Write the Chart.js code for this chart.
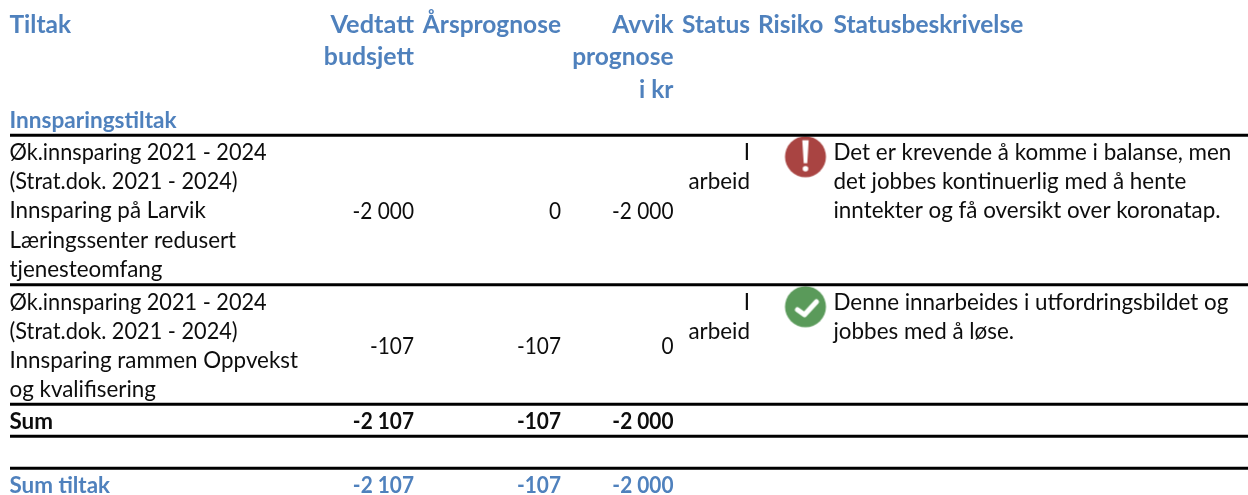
<!DOCTYPE html>
<html>
<head>
<meta charset="utf-8">
<script src="https://cdn.jsdelivr.net/npm/chart.js@4"></script>
<style>
  html, body { margin: 0; padding: 0; background: #fff; }
  canvas { display: block; }
</style>
</head>
<body>
<canvas id="tiltakChart" width="1248" height="495"></canvas>
<script>
// ── Data ──────────────────────────────────────────────────────────────────────
const tiltak = [
  ['Øk.innsparing 2021 - 2024', '(Strat.dok. 2021 - 2024)', 'Innsparing på Larvik', 'Læringssenter redusert', 'tjenesteomfang'],
  ['Øk.innsparing 2021 - 2024', '(Strat.dok. 2021 - 2024)', 'Innsparing rammen Oppvekst', 'og kvalifisering'],
];
const vedtatt = [-2000, -107];
const prognose = [0, -107];
const avvik = [-2000, 0];
const sumVedtatt = -2107;
const sumPrognose = -107;
const sumAvvik = -2000;
const statusTekst = ['I', 'arbeid'];
const beskrivelse = [
  ['Det er krevende å komme i balanse, men', 'det jobbes kontinuerlig med å hente', 'inntekter og få oversikt over koronatap.'],
  ['Denne innarbeides i utfordringsbildet og', 'jobbes med å løse.'],
];

// ── Layout ────────────────────────────────────────────────────────────────────
const BLUE = '#4f81bd';
const BLACK = '#0d0d0d';
const LEFT = 9.5, R_VEDTATT = 414, R_PROGNOSE = 561, R_AVVIK = 673.5, R_STATUS = 750, L_BESKR = 833.5;
const ruleYs = [135.3, 284.7, 404.3, 436.3, 468.3];
const iconX = [805.5, 805.5];
const iconY = [156.7, 306.7];
const iconR = 20.5;
const rowTop = [160, 309.5];
const rowValueY = [218.6, 353.5];
const LINE_H = 29.2;
const HEAD_Y = [33, 65, 98];
const SUM_Y = 429.3;
const TOTAL_Y = 492.5;

const BODY = { font: '22.4px Lato', sx: 1 };
const DIGITS = { font: '22.4px Lato', sx: 0.97 };
const NUM = { font: '22.4px Lato', sx: 0.93 };
const BOLD = { font: 'bold 22.4px Lato', sx: 1 };
const NUMB = { font: 'bold 22.4px Lato', sx: 0.93 };
const HEAD = { font: 'bold 24.5px Lato', sx: 1 };
const SUB = { font: 'bold 22.6px Lato', sx: 1 };

const fmt = v => {
  const s = String(Math.abs(v)).replace(/\B(?=(\d{3})+$)/g, ' ');
  return v < 0 ? `-${s}` : s;
};

// ── Icons ─────────────────────────────────────────────────────────────────────
function makeIcon(color, glyph) {
  const size = 46;
  const c = document.createElement('canvas');
  c.width = size; c.height = size;
  const g = c.getContext('2d');
  const m = size / 2;
  g.filter = 'blur(0.6px)';
  g.fillStyle = color;
  g.beginPath();
  g.arc(m, m, iconR, 0, Math.PI * 2);
  g.fill();
  g.fillStyle = '#fff';
  g.strokeStyle = '#fff';
  if (glyph === 'bang') {
    g.beginPath();
    g.moveTo(m - 3.2, m - 16.5);
    g.lineTo(m + 3.2, m - 16.5);
    g.lineTo(m + 1.8, m + 6.5);
    g.lineTo(m - 1.8, m + 6.5);
    g.closePath();
    g.fill();
    g.beginPath();
    g.arc(m, m + 12, 2.8, 0, Math.PI * 2);
    g.fill();
  } else {
    g.lineWidth = 5;
    g.lineCap = 'round';
    g.lineJoin = 'round';
    g.beginPath();
    g.moveTo(m - 8, m + 3);
    g.lineTo(m - 1, m + 8);
    g.lineTo(m + 11, m - 5);
    g.stroke();
  }
  return c;
}

// ── Text plugin ───────────────────────────────────────────────────────────────
const tablePlugin = {
  id: 'tableText',
  afterDatasetsDraw(chart) {
    const { ctx, scales } = chart;
    const put = (text, x, y, style, align, color) => {
      ctx.save();
      ctx.filter = 'blur(0.35px)';
      ctx.translate(scales.x.getPixelForValue(x), scales.y.getPixelForValue(y));
      ctx.scale(style.sx, 1);
      ctx.font = style.font;
      ctx.textAlign = align;
      ctx.textBaseline = 'alphabetic';
      ctx.fillStyle = color;
      ctx.fillText(text, 0, 0);
      ctx.restore();
    };

    // header
    put('Tiltak', LEFT, HEAD_Y[0], HEAD, 'left', BLUE);
    put('Vedtatt', R_VEDTATT, HEAD_Y[0], { ...HEAD, sx: 1.035 }, 'right', BLUE);
    put('budsjett', R_VEDTATT, HEAD_Y[1], { ...HEAD, sx: 1.015 }, 'right', BLUE);
    put('Årsprognose', R_PROGNOSE, HEAD_Y[0], HEAD, 'right', BLUE);
    put('Avvik', R_AVVIK, HEAD_Y[0], HEAD, 'right', BLUE);
    put('prognose', R_AVVIK, HEAD_Y[1], HEAD, 'right', BLUE);
    put('i kr', R_AVVIK, HEAD_Y[2], HEAD, 'right', BLUE);
    put('Status', 682, HEAD_Y[0], HEAD, 'left', BLUE);
    put('Risiko', 758, HEAD_Y[0], HEAD, 'left', BLUE);
    put('Statusbeskrivelse', L_BESKR, HEAD_Y[0], HEAD, 'left', BLUE);
    put('Innsparingstiltak', LEFT, 127.5, SUB, 'left', BLUE);

    // rows
    tiltak.forEach((lines, r) => {
      lines.forEach((l, i) => put(l, LEFT, rowTop[r] + i * LINE_H, /\d/.test(l) ? DIGITS : BODY, 'left', BLACK));
      put(fmt(vedtatt[r]), R_VEDTATT, rowValueY[r], NUM, 'right', BLACK);
      put(fmt(prognose[r]), R_PROGNOSE, rowValueY[r], NUM, 'right', BLACK);
      put(fmt(avvik[r]), R_AVVIK, rowValueY[r], NUM, 'right', BLACK);
      statusTekst.forEach((l, i) => put(l, R_STATUS, rowTop[r] + i * LINE_H, BODY, 'right', BLACK));
      beskrivelse[r].forEach((l, i) => put(l, L_BESKR, rowTop[r] + i * LINE_H, BODY, 'left', BLACK));
    });

    // sums
    put('Sum', LEFT, SUM_Y, BOLD, 'left', BLACK);
    put(fmt(sumVedtatt), R_VEDTATT, SUM_Y, NUMB, 'right', BLACK);
    put(fmt(sumPrognose), R_PROGNOSE, SUM_Y, NUMB, 'right', BLACK);
    put(fmt(sumAvvik), R_AVVIK, SUM_Y, NUMB, 'right', BLACK);
    put('Sum tiltak', LEFT, TOTAL_Y, BOLD, 'left', BLUE);
    put(fmt(sumVedtatt), R_VEDTATT, TOTAL_Y, NUMB, 'right', BLUE);
    put(fmt(sumPrognose), R_PROGNOSE, TOTAL_Y, NUMB, 'right', BLUE);
    put(fmt(sumAvvik), R_AVVIK, TOTAL_Y, NUMB, 'right', BLUE);
  },
};

// ── Chart ─────────────────────────────────────────────────────────────────────
const ruleSets = ruleYs.map(y => ({
  type: 'line',
  data: [{ x: 10, y }, { x: 1248, y }],
  borderColor: '#000',
  borderWidth: 3,
  pointRadius: 0,
}));

document.fonts.load('21px Lato').then(() => document.fonts.load('bold 21px Lato')).finally(() => {
  new Chart(document.getElementById('tiltakChart').getContext('2d'), {
    type: 'scatter',
    data: {
      datasets: [
        ...ruleSets,
        {
          data: [{ x: iconX[0], y: iconY[0] }],
          pointStyle: makeIcon('#a94442', 'bang'),
        },
        {
          data: [{ x: iconX[1], y: iconY[1] }],
          pointStyle: makeIcon('#5a9a5a', 'check'),
        },
      ],
    },
    plugins: [tablePlugin],
    options: {
      responsive: false,
      animation: false,
      layout: { padding: 0, autoPadding: false },
      plugins: { legend: { display: false }, tooltip: { enabled: false } },
      scales: {
        x: { type: 'linear', min: 0, max: 1248, display: false },
        y: { type: 'linear', min: 0, max: 495, reverse: true, display: false },
      },
    },
  });
});
</script>
</body>
</html>
